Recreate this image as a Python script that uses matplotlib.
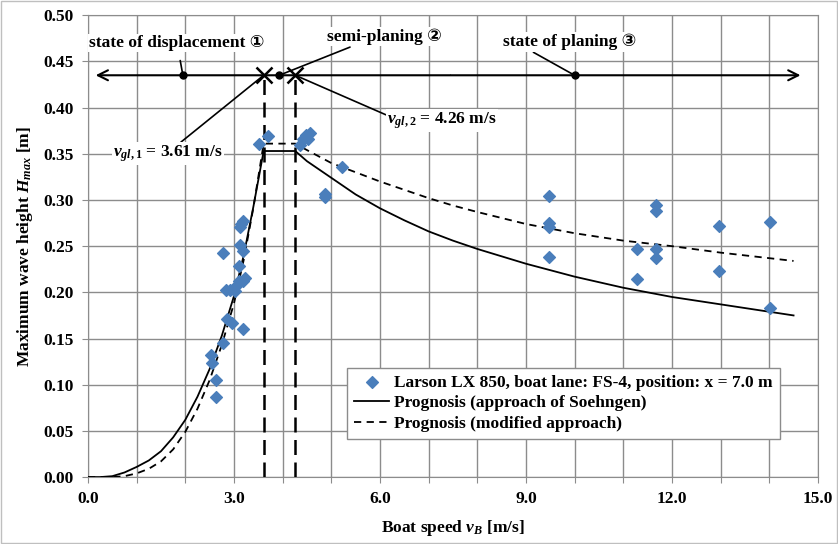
import matplotlib
matplotlib.use("Agg")
import matplotlib.pyplot as plt
from matplotlib.ticker import FixedLocator, FuncFormatter

plt.rcParams['font.family'] = ['Liberation Serif', 'DejaVu Serif', 'DejaVu Sans', 'Noto Sans CJK SC']
plt.rcParams['font.weight'] = 'bold'
plt.rcParams['mathtext.fontset'] = 'custom'
plt.rcParams['mathtext.rm'] = 'Liberation Serif:bold'
plt.rcParams['mathtext.it'] = 'Liberation Serif:italic:bold'
plt.rcParams['mathtext.bf'] = 'Liberation Serif:bold'

# measured data: boat speed [m/s], max wave height [m]
speed_meas = [3.52, 3.70, 4.36, 4.42, 4.49, 4.56, 4.52, 5.23, 4.87, 4.87,
              3.19, 3.12, 3.15, 2.78, 3.12, 3.18, 3.10, 3.23, 3.19, 3.05,
              3.02, 2.92, 2.83, 3.10, 2.85, 2.95, 3.19, 2.78, 2.52, 2.54,
              2.64, 2.63,
              9.47, 9.47, 9.47, 9.47, 11.29, 11.29, 11.67, 11.67, 11.67, 11.67,
              12.97, 12.97, 14.01, 14.01]
height_meas = [0.361, 0.369, 0.359, 0.366, 0.370, 0.373, 0.366, 0.336, 0.306, 0.303,
               0.277, 0.271, 0.274, 0.243, 0.251, 0.245, 0.228, 0.216, 0.212, 0.207,
               0.201, 0.203, 0.202, 0.212, 0.171, 0.167, 0.160, 0.145, 0.132, 0.123,
               0.105, 0.087,
               0.304, 0.275, 0.271, 0.238, 0.247, 0.214, 0.295, 0.288, 0.247, 0.237,
               0.272, 0.223, 0.276, 0.183]

# prognosis curves
speed_prog = [0.0, 0.25, 0.5, 0.75, 1.0, 1.25, 1.5, 1.75, 2.0, 2.25, 2.5, 2.75, 3.0,
              3.2, 3.4, 3.61, 4.26, 4.5, 5.0, 5.5, 6.0, 6.5, 7.0, 7.5, 8.0, 9.0,
              10.0, 11.0, 12.0, 13.0, 14.0, 14.5]
h_soehngen = [0.0, 0.0, 0.001, 0.005, 0.011, 0.018, 0.028, 0.043, 0.062, 0.087, 0.117,
              0.153, 0.196, 0.240, 0.293, 0.353, 0.353, 0.342, 0.324, 0.306, 0.291,
              0.278, 0.266, 0.256, 0.247, 0.231, 0.217, 0.205, 0.195, 0.187, 0.179, 0.175]
h_modified = [0.0, 0.0, 0.0, 0.001, 0.004, 0.009, 0.017, 0.030, 0.049, 0.074, 0.105,
              0.143, 0.188, 0.235, 0.292, 0.361, 0.361, 0.354, 0.340, 0.330, 0.320,
              0.311, 0.302, 0.294, 0.287, 0.274, 0.264, 0.256, 0.250, 0.243, 0.237, 0.234]

v_gl1 = 3.61
v_gl2 = 4.26
state_level = 0.435
state_points = [1.95, 3.93, 10.0]

fig = plt.figure(figsize=(8.38, 5.44), dpi=100)
ax = fig.add_axes([0.105, 0.123, 0.871, 0.849])
ax.set_xlim(0, 15)
ax.set_ylim(0, 0.5)

grid_col = '#8c8c8c'
ax.xaxis.set_major_locator(FixedLocator(list(range(0, 16))))
ax.xaxis.set_major_formatter(FuncFormatter(lambda v, p: f"{v:.1f}" if round(v) % 3 == 0 else ""))
ax.set_yticks([i * 0.05 for i in range(11)])
ax.yaxis.set_major_formatter(FuncFormatter(lambda v, p: f"{v:.2f}"))
ax.grid(True, color=grid_col, linewidth=1.0)
ax.set_axisbelow(True)
for s in ax.spines.values():
    s.set_color(grid_col)
ax.tick_params(axis='both', direction='out', length=4, color=grid_col, labelsize=12.5, pad=6)
for lab in ax.get_xticklabels() + ax.get_yticklabels():
    lab.set_fontweight('bold')

# curves
ax.plot(speed_prog, h_soehngen, color='black', lw=1.3, label='Prognosis (approach of Soehngen)', zorder=3)
ax.plot(speed_prog, h_modified, color='black', lw=1.3, ls=(0, (4, 3)), label='Prognosis (modified approach)', zorder=3)

# vertical limits
for v in (v_gl1, v_gl2):
    ax.plot([v, v], [0, state_level], color='black', lw=1.8, ls=(0, (6, 3)), zorder=3)

# state arrow
ax.annotate('', xy=(0.1, state_level), xytext=(7.5, state_level),
            arrowprops=dict(arrowstyle='->', color='black', lw=1.5, mutation_scale=18), zorder=4)
ax.annotate('', xy=(14.7, state_level), xytext=(7.4, state_level),
            arrowprops=dict(arrowstyle='->', color='black', lw=1.5, mutation_scale=18), zorder=4)
ax.plot(state_points, [state_level] * len(state_points), 'o', color='black', ms=5, zorder=5)
ax.plot([v_gl1, v_gl2], [state_level] * 2, 'x', color='black', ms=12, mew=1.8, zorder=5)

# measured points
ax.scatter(speed_meas, height_meas, marker='D', s=36, color='#4a7ebb', zorder=6,
           label='Larson LX 850, boat lane: FS-4, position: x = 7.0 m')

tfs = 12.5
bb = dict(facecolor='white', edgecolor='none', pad=1)
# annotations
ax.annotate('state of displacement ①', xy=(state_points[0], state_level), xytext=(1.83, 0.470),
            ha='center', va='center', fontsize=tfs, fontweight='bold', bbox=bb,
            arrowprops=dict(arrowstyle='-', color='black', lw=1.2, shrinkA=6, shrinkB=0), zorder=7)
ax.annotate('semi-planing ②', xy=(state_points[1], state_level), xytext=(6.1, 0.477),
            ha='center', va='center', fontsize=tfs, fontweight='bold', bbox=bb,
            arrowprops=dict(arrowstyle='-', color='black', lw=1.2, shrinkA=2, shrinkB=0,
                            relpos=(0.25, 0.0)), zorder=7)
ax.annotate('state of planing ③', xy=(state_points[2], state_level), xytext=(9.9, 0.471),
            ha='center', va='center', fontsize=tfs, fontweight='bold', bbox=bb,
            arrowprops=dict(arrowstyle='-', color='black', lw=1.2, shrinkA=1, shrinkB=0,
                            relpos=(0.2, 0.0)), zorder=7)
ax.annotate('$v_{gl,1}$ = 3.61 m/s', xy=(v_gl1, state_level), xytext=(1.65, 0.350),
            ha='center', va='center', fontsize=tfs, fontweight='bold', bbox=bb,
            arrowprops=dict(arrowstyle='-', color='black', lw=1.2, shrinkA=0, shrinkB=0,
                            relpos=(0.6, 1.0)), zorder=7)
ax.annotate('$v_{gl,2}$ = 4.26 m/s', xy=(v_gl2, state_level), xytext=(6.15, 0.386),
            ha='left', va='center', fontsize=tfs, fontweight='bold', bbox=bb,
            arrowprops=dict(arrowstyle='-', color='black', lw=1.2, shrinkA=0, shrinkB=0,
                            relpos=(0.0, 0.75)), zorder=7)

ax.set_xlabel('Boat speed $v_B$ [m/s]', fontsize=12.5, fontweight='bold', labelpad=8)
ax.set_ylabel('Maximum wave height $H_{max}$ [m]', fontsize=12.5, fontweight='bold', labelpad=6)

handles, labels = ax.get_legend_handles_labels()
order = [2, 0, 1]
leg = ax.legend([handles[i] for i in order], [labels[i] for i in order],
                loc='lower right', bbox_to_anchor=(0.948, 0.083), fontsize=12.5,
                frameon=True, fancybox=False, framealpha=1, edgecolor='#8c8c8c',
                handlelength=2.0, handletextpad=0.3, borderpad=0.4, labelspacing=0.25,
                borderaxespad=0, prop={'weight': 'bold', 'size': 12.5})
leg.set_zorder(8)

fig.patches.append(plt.Rectangle((0.001, 0.001), 0.998, 0.997, transform=fig.transFigure,
                                 fill=False, edgecolor='#bfbfbf', lw=1))

fig.savefig('out.png', dpi=100)
